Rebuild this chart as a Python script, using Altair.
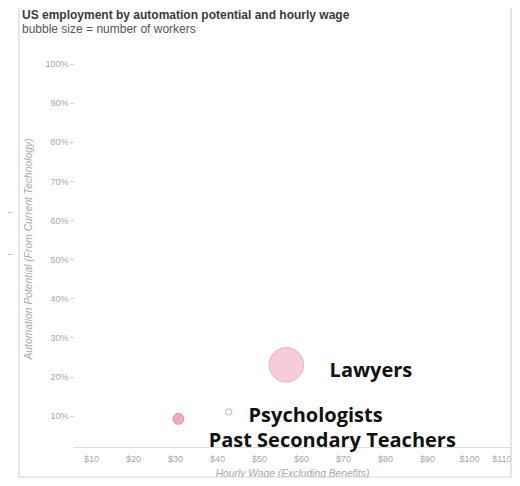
import altair as alt
import pandas as pd

# ---- data ----
occupations = ["Lawyers", "Psychologists", "Past Secondary Teachers"]
hourly_wage = [56.5, 42.8, 30.8]          # $ per hour
automation = [23.0, 11.0, 9.2]            # percent
workers = [600000, 20000, 60000]          # bubble size = number of workers
bubble_fill = ["#f7cbdb", "#ffffff", "#f0aac3"]
bubble_stroke = ["#e6b2c4", "#b9b9b9", "#dc92ad"]

label_text = ["Lawyers", "Psychologists", "Past Secondary Teachers"]
label_wage = [66.8, 47.5, 38.0]
label_auto = [19.9, 8.5, 2.1]

x_ticks = [10, 20, 30, 40, 50, 60, 70, 80, 90, 100, 110]
y_ticks = [10, 20, 30, 40, 50, 60, 70, 80, 90, 100]

title_text = "US employment by automation potential and hourly wage"
subtitle_text = "bubble size = number of workers"

pts = pd.DataFrame({"occupation": occupations, "wage": hourly_wage,
                    "auto": automation, "workers": workers})
labels = pd.DataFrame({"text": label_text, "wage": label_wage, "auto": label_auto})

W, H = 438, 399
xscale = alt.Scale(domain=[5.7, 110], nice=False, zero=False)
yscale = alt.Scale(domain=[2, 104], nice=False, zero=False)

x_axis = alt.Axis(values=x_ticks, labelExpr="'$' + datum.value", grid=False,
                  domainColor="#dddddd", ticks=False, labelPadding=7,
                  labelFontSize=9, labelColor="#a8a8a8", labelFont="Liberation Sans",
                  labelFlush=True, labelOverlap=False,
                  title="Hourly Wage (Excluding Benefits)", titleFontSize=10.3,
                  titleFontStyle="italic", titleFontWeight="normal", titleColor="#a8a8a8",
                  titleFont="Liberation Sans", titleY=26, titleBaseline="middle")
y_axis = alt.Axis(values=y_ticks, labelExpr="datum.value + '%'", grid=False,
                  domain=False, tickSize=3, tickColor="#cfcfcf", labelPadding=2,
                  labelFontSize=9, labelColor="#a8a8a8", labelFont="Liberation Sans",
                  title="Automation Potential (From Current Technology)", titleFontSize=10.3,
                  titleFontStyle="italic", titleFontWeight="normal", titleColor="#a8a8a8",
                  titleFont="Liberation Sans", titleX=-45, titleY=H / 2 + 1,
                  titleBaseline="middle", titleAngle=270)

base = alt.Chart(pd.DataFrame({"a": [0]}))
frame = base.mark_rect(fill=None, stroke="#d6d6d6", strokeWidth=1.2, clip=False).encode(
    x=alt.value(-54), x2=alt.value(438), y=alt.value(-42), y2=alt.value(429))
edge1 = base.mark_rect(fill="#cccccc", clip=False).encode(
    x=alt.value(-73), x2=alt.value(-60), y=alt.value(164), y2=alt.value(165))
edge2 = base.mark_rect(fill="#cccccc", clip=False).encode(
    x=alt.value(-73), x2=alt.value(-60), y=alt.value(206), y2=alt.value(207))
title = base.mark_text(align="left", baseline="alphabetic", font="Liberation Sans",
                       fontSize=12, fontWeight="bold", color="#3a3a3a", clip=False).encode(
    x=alt.value(-51), y=alt.value(-29), text=alt.value(title_text))
subtitle = base.mark_text(align="left", baseline="alphabetic", font="Liberation Sans",
                          fontSize=12, color="#555555", clip=False).encode(
    x=alt.value(-51), y=alt.value(-15.5), text=alt.value(subtitle_text))

bubbles = alt.Chart(pts).mark_circle(opacity=1, strokeWidth=1).encode(
    x=alt.X("wage:Q", scale=xscale, axis=x_axis),
    y=alt.Y("auto:Q", scale=yscale, axis=y_axis),
    size=alt.Size("workers:Q", scale=alt.Scale(domain=[0, 600000], range=[0, 1190]), legend=None),
    fill=alt.Fill("occupation:N", scale=alt.Scale(domain=occupations, range=bubble_fill), legend=None),
    stroke=alt.Stroke("occupation:N", scale=alt.Scale(domain=occupations, range=bubble_stroke), legend=None),
)

texts = alt.Chart(labels).mark_text(
    align="left", baseline="alphabetic", font="Open Sans", fontWeight="bold",
    fontSize=20, color="#111111", clip=False
).encode(x=alt.X("wage:Q", scale=xscale), y=alt.Y("auto:Q", scale=yscale), text="text:N")

chart = alt.layer(bubbles, texts, frame, edge1, edge2, title, subtitle).properties(
    width=W, height=H,
    autosize=alt.AutoSizeParams(type="none"),
    padding={"left": 65, "top": 40, "right": 1, "bottom": 31},
).configure_view(stroke=None)

chart.save("out.html", embed_options={"renderer": "svg", "actions": False})
